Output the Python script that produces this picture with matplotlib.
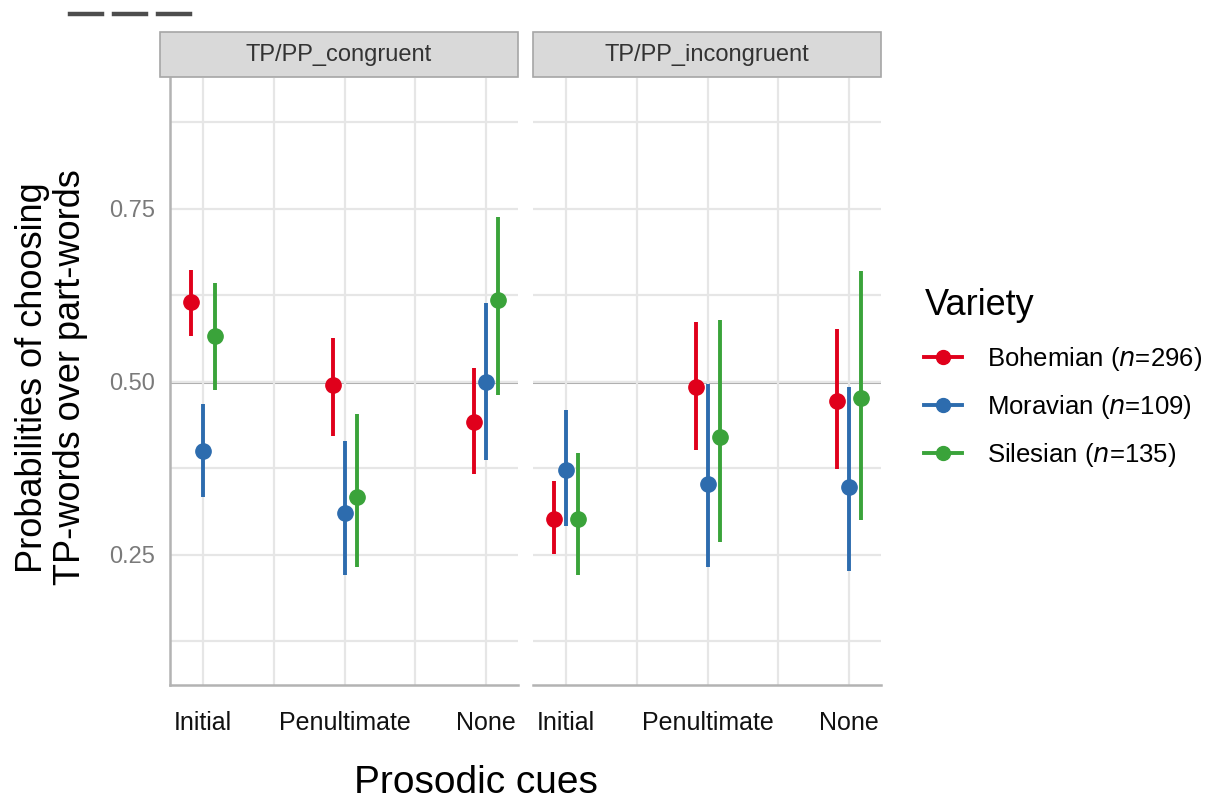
import matplotlib.pyplot as plt
from matplotlib.lines import Line2D
from matplotlib.patches import Rectangle

cues = ["Initial", "Penultimate", "None"]
conditions = ["TP/PP_congruent", "TP/PP_incongruent"]
varieties = ["Bohemian", "Moravian", "Silesian"]
n_sizes = [296, 109, 135]
colors = ["#e0001b", "#2d6cae", "#3aa33a"]

# estimate, lower, upper per condition -> variety -> cue
est = {
    "TP/PP_congruent": {
        "Bohemian": [0.616, 0.496, 0.442],
        "Moravian": [0.400, 0.310, 0.500],
        "Silesian": [0.566, 0.334, 0.618],
    },
    "TP/PP_incongruent": {
        "Bohemian": [0.302, 0.493, 0.473],
        "Moravian": [0.373, 0.353, 0.348],
        "Silesian": [0.302, 0.421, 0.477],
    },
}
lower = {
    "TP/PP_congruent": {
        "Bohemian": [0.566, 0.422, 0.367],
        "Moravian": [0.334, 0.221, 0.387],
        "Silesian": [0.488, 0.233, 0.481],
    },
    "TP/PP_incongruent": {
        "Bohemian": [0.251, 0.402, 0.374],
        "Moravian": [0.292, 0.233, 0.227],
        "Silesian": [0.221, 0.269, 0.300],
    },
}
upper = {
    "TP/PP_congruent": {
        "Bohemian": [0.662, 0.564, 0.520],
        "Moravian": [0.468, 0.415, 0.614],
        "Silesian": [0.643, 0.454, 0.738],
    },
    "TP/PP_incongruent": {
        "Bohemian": [0.357, 0.587, 0.577],
        "Moravian": [0.459, 0.497, 0.493],
        "Silesian": [0.397, 0.590, 0.660],
    },
}
dodge = [-0.085, 0.0, 0.085]

plt.rcParams["font.family"] = ["Liberation Sans", "DejaVu Sans"]
fig = plt.figure(figsize=(12.13, 8), dpi=100)

grid_c = "#e6e6e6"
axis_c = "#b3b3b3"
panel_left = [0.1401, 0.4394]
panel_w = 0.2869
panel_b, panel_h = 0.14375, 0.75875

for k, cond in enumerate(conditions):
    ax = fig.add_axes([panel_left[k], panel_b, panel_w, panel_h])
    ax.set_xlim(0.765, 3.225)
    ax.set_ylim(0.062, 0.939)
    ax.set_xticks([1, 2, 3])
    ax.set_xticks([1.5, 2.5], minor=True)
    ax.set_yticks([0.25, 0.5, 0.75])
    ax.set_yticks([0.125, 0.375, 0.625, 0.875], minor=True)
    ax.grid(True, which="both", color=grid_c, lw=1.6, zorder=0)
    ax.axhline(0.5, color="#aaaaaa", lw=2.2, zorder=1)
    for s in ax.spines.values():
        s.set_visible(False)
    ax.spines["bottom"].set_visible(True)
    ax.spines["bottom"].set_color(axis_c)
    ax.spines["bottom"].set_linewidth(1.8)
    if k == 0:
        ax.spines["left"].set_visible(True)
        ax.spines["left"].set_color(axis_c)
        ax.spines["left"].set_linewidth(1.8)
        ax.set_yticklabels(["0.25", "0.50", "0.75"])
    else:
        ax.set_yticklabels([])
    ax.tick_params(which="both", length=0)
    ax.tick_params(axis="y", labelsize=17, labelcolor="#7a7a7a", pad=11)
    ax.set_xticklabels(cues)
    ax.tick_params(axis="x", labelsize=18, labelcolor="#111111", pad=19)

    for i, v in enumerate(varieties):
        xs = [j + 1 + dodge[i] for j in range(len(cues))]
        m = est[cond][v]
        lo = [a - b for a, b in zip(m, lower[cond][v])]
        hi = [b - a for a, b in zip(m, upper[cond][v])]
        ax.errorbar(xs, m, yerr=[lo, hi], fmt="o", color=colors[i], ms=11,
                    elinewidth=2.8, capsize=0, zorder=3)

    # facet strip
    sx = panel_left[k] - (0.0082 if k == 0 else 0.0)
    sw = panel_w + (0.0082 if k == 0 else 0.0)
    strip = Rectangle((sx, 0.90375), sw, 0.0565,
                      transform=fig.transFigure, facecolor="#d9d9d9",
                      edgecolor="#a6a6a6", lw=1.2)
    fig.patches.append(strip)
    fig.text(sx + sw / 2, 0.931, cond, ha="center", va="center",
             fontsize=17, color="#333333")

# stray dashes in the top-left corner
for x0, x1 in [(70, 102), (114, 146), (158, 190)]:
    fig.add_artist(Line2D([x0 / 1213, x1 / 1213], [1 - 14 / 800] * 2,
                          color="#4d4d4d", lw=3.2, transform=fig.transFigure))

fig.text(0.3925, 0.009, "Prosodic cues", ha="center", va="baseline", fontsize=28)
fig.text(0.027, 0.528, "Probabilities of choosing", rotation=90,
         ha="center", va="center", fontsize=26)
fig.text(0.058, 0.528, "TP-words over part-words", rotation=90,
         ha="center", va="center", fontsize=26)

handles = [Line2D([0], [0], color=c, lw=2.8, marker="o", ms=10) for c in colors]
labels = [f"{v} ($\\it{{n}}$={n})" for v, n in zip(varieties, n_sizes)]
leg = fig.legend(handles, labels, title="Variety", loc="upper left",
                 bbox_to_anchor=(0.743, 0.6695), frameon=False, fontsize=18.5,
                 title_fontsize=26, handlelength=1.45, labelspacing=0.78,
                 handletextpad=1.0, alignment="left")
leg._legend_box.sep = 16

fig.savefig("out.png", dpi=100)
